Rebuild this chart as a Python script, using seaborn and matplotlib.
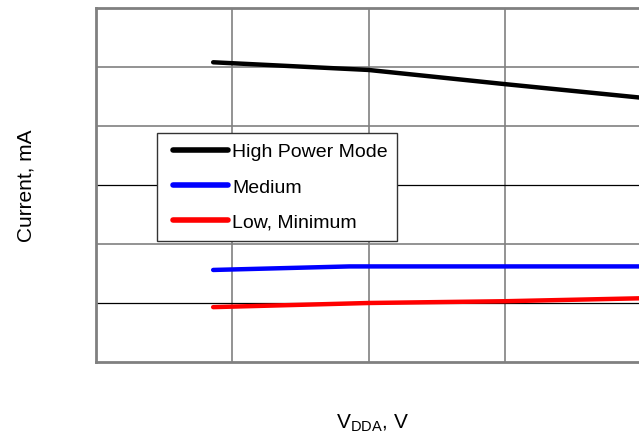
import matplotlib
matplotlib.use('Agg')
import matplotlib.pyplot as plt
import pandas as pd
import seaborn as sns
from matplotlib.legend_handler import HandlerLine2D
from matplotlib.lines import Line2D

# supply voltage points (V) and current per mode (arbitrary units, axis has no tick labels)
vdda = [1.93, 2.5, 3.0, 3.5]
vdda_medium = [1.93, 2.43, 3.0, 3.5]
high_power = [5.08, 4.95, 4.71, 4.48]
medium = [1.56, 1.62, 1.62, 1.62]
low_minimum = [0.93, 1.0, 1.03, 1.08]

modes = ['High Power Mode', 'Medium', 'Low, Minimum']
colors = ['black', 'blue', 'red']

df = pd.concat([
    pd.DataFrame({'vdda': vdda, 'current': high_power, 'mode': modes[0]}),
    pd.DataFrame({'vdda': vdda_medium, 'current': medium, 'mode': modes[1]}),
    pd.DataFrame({'vdda': vdda, 'current': low_minimum, 'mode': modes[2]}),
])

sns.set_style('white')
plt.rcParams['font.family'] = ['Liberation Sans', 'DejaVu Sans']
plt.rcParams['text.color'] = 'black'
plt.rcParams['axes.labelcolor'] = 'black'

fig = plt.figure(figsize=(6.39, 4.35), dpi=100)
ax = fig.add_axes([96 / 639, 72 / 435, 545 / 639, 354 / 435])

sns.lineplot(data=df, x='vdda', y='current', hue='mode', hue_order=modes,
             palette=colors, linewidth=3.2, ax=ax, solid_capstyle='round',
             estimator=None, sort=False, zorder=3)

ax.set_xlim(1.5, 3.5)
ax.set_ylim(0, 6)
ax.set_xticks([2.0, 2.5, 3.0])
ax.set_yticks([1, 2, 3, 4, 5])
ax.tick_params(length=0, labelbottom=False, labelleft=False)

grey = '#808080'
for x in [2.0, 2.5, 3.0]:
    ax.axvline(x, color=grey, lw=1.2, zorder=1)
for y in [2, 4, 5]:
    ax.axhline(y, color=grey, lw=1.2, zorder=1)
for y in [1, 3]:
    ax.axhline(y, color='black', lw=0.9, zorder=1)

for s in ax.spines.values():
    s.set_color(grey)
    s.set_linewidth(2)
    s.set_visible(True)

ax.set_xlabel('V$_{\\mathregular{DDA}}$, V', fontsize=15)
ax.set_ylabel('Current, mA', fontsize=15)
ax.xaxis.set_label_coords(277 / 545, -49 / 354)
ax.yaxis.set_label_coords(-60 / 545, 0.5)

leg = ax.legend(loc='upper left', bbox_to_anchor=(61 / 545, 229 / 354),
                borderaxespad=0, fontsize=14, frameon=True, fancybox=False,
                handlelength=3.48, handletextpad=-0.12, labelspacing=0.91,
                borderpad=0.5, framealpha=1,
                handler_map={Line2D: HandlerLine2D(numpoints=2, marker_pad=0.32)})
leg.get_frame().set_edgecolor('#333333')
leg.get_frame().set_linewidth(1)
for line in leg.get_lines():
    line.set_linewidth(4)

fig.savefig('out.png', dpi=100)
